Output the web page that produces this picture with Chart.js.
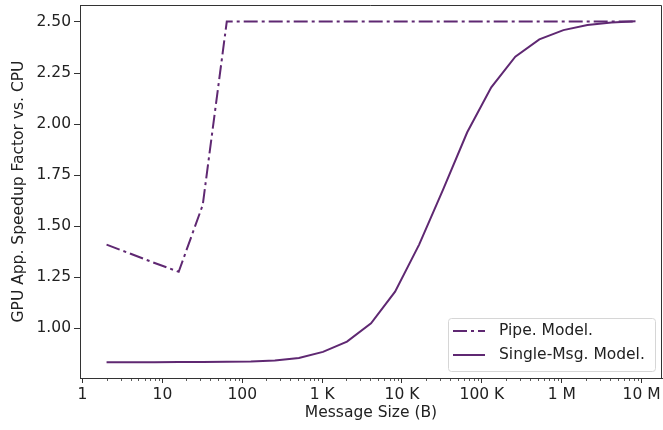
<!DOCTYPE html>
<html>
<head>
<meta charset="utf-8">
<script src="https://cdn.jsdelivr.net/npm/chart.js@4.4.1/dist/chart.umd.min.js"></script>
<style>
  html, body { margin: 0; padding: 0; background: #fff; }
  #wrap { width: 663px; height: 430px; position: relative; }
</style>
</head>
<body>
<div id="wrap"><canvas id="chart"></canvas></div>
<script>
// message sizes in bytes (2 .. 8M)
var msgSizes = [2, 4, 8, 16, 32, 64, 128, 256, 512, 1024, 2048, 4096, 8192, 16384,
  32768, 65536, 131072, 262144, 524288, 1048576, 2097152, 4194304, 8388608];
var pipeModel = [1.41, 1.365, 1.32, 1.277, 1.604, 2.502, 2.502, 2.502, 2.502, 2.502,
  2.502, 2.502, 2.502, 2.502, 2.502, 2.502, 2.502, 2.502, 2.502, 2.502, 2.502, 2.502, 2.502];
var singleMsgModel = [0.834, 0.834, 0.834, 0.835, 0.835, 0.836, 0.838, 0.843, 0.855,
  0.885, 0.935, 1.025, 1.18, 1.41, 1.68, 1.96, 2.18, 2.33, 2.415, 2.46, 2.485, 2.497, 2.503];
var xTicks = [1, 10, 100, 1000, 10000, 100000, 1000000, 10000000];
var xTickLabels = ["1", "10", "100", "1 K", "10 K", "100 K", "1 M", "10 M"];
var yTicks = [1.00, 1.25, 1.50, 1.75, 2.00, 2.25, 2.50];

var purple = "#5f2872";
var font = "'DejaVu Sans', sans-serif";
var fontSize = 15.5;

function toPoints(xs, ys) {
  var pts = [];
  for (var i = 0; i < xs.length; i++) pts.push({x: xs[i], y: ys[i]});
  return pts;
}

// minor ticks on the log axis, top/right spines and the legend box inside the plot
var extras = {
  id: "extras",
  afterDraw: function(chart) {
    var ctx = chart.ctx;
    var xs = chart.scales.x;
    var area = chart.chartArea;
    ctx.save();
    ctx.strokeStyle = "#333";
    ctx.lineWidth = 0.8;
    for (var d = 1; d <= 1e7; d *= 10) {
      for (var m = 2; m <= 9; m++) {
        var v = d * m;
        if (v > xs.max) break;
        var px = Math.round(xs.getPixelForValue(v)) + 0.5;
        ctx.beginPath();
        ctx.moveTo(px, area.bottom);
        ctx.lineTo(px, area.bottom + 3);
        ctx.stroke();
      }
    }
    ctx.lineWidth = 1;
    ctx.beginPath();
    ctx.moveTo(area.left, area.top + 0.5);
    ctx.lineTo(area.right - 0.5, area.top + 0.5);
    ctx.lineTo(area.right - 0.5, area.bottom);
    ctx.stroke();
    // legend
    var bx = 448.5, by = 318.5, bw = 207, bh = 53;
    ctx.fillStyle = "rgba(255,255,255,0.8)";
    ctx.strokeStyle = "#d6d6d6";
    ctx.lineWidth = 1;
    ctx.beginPath();
    ctx.roundRect(bx, by, bw, bh, 3);
    ctx.fill();
    ctx.stroke();
    ctx.font = fontSize + "px " + font;
    ctx.textBaseline = "middle";
    ctx.textAlign = "left";
    var rows = [331, 355];
    chart.data.datasets.forEach(function(ds, i) {
      ctx.strokeStyle = ds.borderColor;
      ctx.lineWidth = 2;
      ctx.setLineDash(ds.borderDash || []);
      ctx.beginPath();
      ctx.moveTo(453, rows[i]);
      ctx.lineTo(485, rows[i]);
      ctx.stroke();
      ctx.setLineDash([]);
      ctx.fillStyle = "#222";
      ctx.fillText(ds.label, 499, rows[i]);
    });
    ctx.restore();
  }
};

new Chart(document.getElementById("chart"), {
  type: "line",
  data: {
    datasets: [
      {
        label: "Pipe. Model.",
        data: toPoints(msgSizes, pipeModel),
        borderColor: purple,
        borderWidth: 2,
        borderDash: [14, 4, 3, 4],
        pointRadius: 0,
        fill: false,
        tension: 0
      },
      {
        label: "Single-Msg. Model.",
        data: toPoints(msgSizes, singleMsgModel),
        borderColor: purple,
        borderWidth: 2,
        pointRadius: 0,
        fill: false,
        tension: 0
      }
    ]
  },
  options: {
    responsive: true,
    maintainAspectRatio: false,
    animation: false,
    layout: { autoPadding: false, padding: { top: 5, right: 1, left: 0, bottom: 0 } },
    plugins: {
      legend: { display: false },
      tooltip: { enabled: false }
    },
    scales: {
      x: {
        type: "logarithmic",
        min: 0.93,
        max: 1.8e7,
        border: { display: true, color: "#333", width: 1 },
        grid: { drawOnChartArea: false, tickLength: 5, color: "#333" },
        afterBuildTicks: function(scale) {
          scale.ticks = xTicks.map(function(v) { return {value: v}; });
        },
        afterFit: function(scale) {
          scale.height = 52;
          scale.paddingLeft = 0;
          scale.paddingRight = 0;
        },
        ticks: {
          autoSkip: false,
          maxRotation: 0,
          padding: 3,
          color: "#222",
          font: { family: font, size: fontSize },
          callback: function(value) {
            var idx = xTicks.indexOf(value);
            return idx >= 0 ? xTickLabels[idx] : "";
          }
        },
        title: {
          display: true,
          text: "Message Size (B)",
          color: "#222",
          font: { family: font, size: fontSize },
          padding: { top: 0, bottom: 8 }
        }
      },
      y: {
        type: "linear",
        min: 0.757,
        max: 2.583,
        border: { display: true, color: "#333", width: 1 },
        grid: { drawOnChartArea: false, tickLength: 6, color: "#333" },
        afterBuildTicks: function(scale) {
          scale.ticks = yTicks.map(function(v) { return {value: v}; });
        },
        afterFit: function(scale) {
          scale.width = 80;
          scale.paddingTop = 0;
          scale.paddingBottom = 0;
        },
        ticks: {
          padding: 3,
          color: "#222",
          font: { family: font, size: fontSize },
          callback: function(value) { return Number(value).toFixed(2); }
        },
        title: {
          display: true,
          text: "GPU App. Speedup Factor vs. CPU",
          color: "#222",
          font: { family: font, size: fontSize },
          padding: { top: 10, bottom: 0 }
        }
      }
    }
  },
  plugins: [extras]
});
</script>
</body>
</html>
